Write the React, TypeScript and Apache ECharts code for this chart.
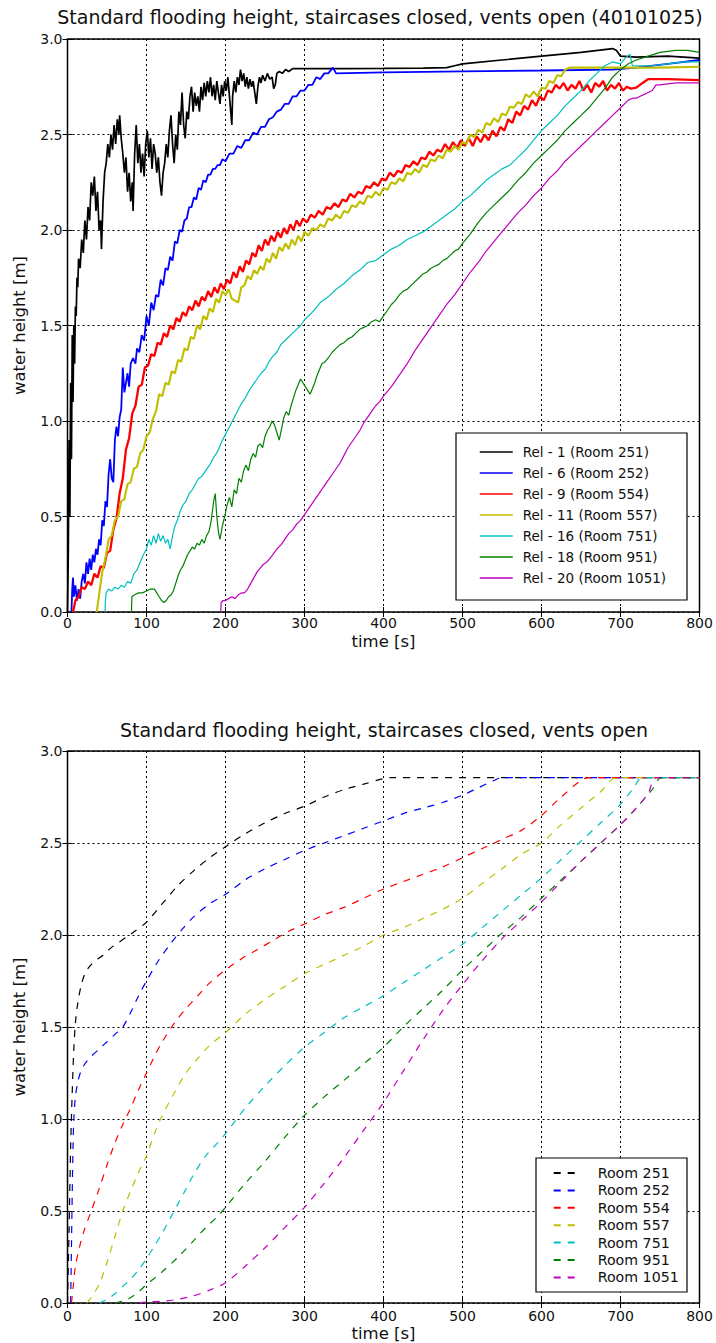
import React, { useEffect, useRef } from "react";
import * as echarts from "echarts";

// ---------- Texts and ticks ----------
const topTitle = "Standard flooding height, staircases closed, vents open (40101025)";
const bottomTitle = "Standard flooding height, staircases closed, vents open";
const topNames = [
  "Rel - 1 (Room 251)", "Rel - 6 (Room 252)", "Rel - 9 (Room 554)", "Rel - 11 (Room 557)",
  "Rel - 16 (Room 751)", "Rel - 18 (Room 951)", "Rel - 20 (Room 1051)",
];
const bottomNames = ["Room 251", "Room 252", "Room 554", "Room 557", "Room 751", "Room 951", "Room 1051"];
const colors = ["#000000", "#0000ff", "#ff0000", "#bfbf00", "#00bfbf", "#008000", "#bf00bf"];
const xTicks = [0, 100, 200, 300, 400, 500, 600, 700, 800];
const yTicks = [0, 0.5, 1.0, 1.5, 2.0, 2.5, 3.0];

// ---------- Top chart data (measured, [time s, height m]) ----------
const rel1 = [[0,0],[1,0.3],[2,0.9],[3,0.5],[4,1.2],[5,0.8],[6,1.45],[7,1.1],[8,1.5],[9,1.3],[10,1.6],[11,1.55],[12,1.75],[13,1.7],[14,1.85],[16,1.8],[18,1.95],[20,1.88],[22,2.05],[24,1.95],[26,2.12],[28,2.05],[30,2.25],[32,2.18],[34,2.28],[36,2.1],[38,2.2],[40,2.0],[42,2.05],[43,1.9],[45,2.15],[47,2.3],[49,2.35],[51,2.45],[53,2.38],[55,2.5],[57,2.42],[59,2.55],[61,2.45],[63,2.58],[65,2.5],[66,2.6],[68,2.48],[70,2.4],[72,2.3],[74,2.38],[76,2.2],[78,2.3],[80,2.15],[82,2.25],[83,2.1],[85,2.4],[87,2.55],[89,2.35],[91,2.45],[93,2.3],[95,2.4],[97,2.28],[99,2.45],[101,2.52],[103,2.38],[105,2.48],[107,2.32],[109,2.45],[111,2.4],[113,2.3],[115,2.38],[117,2.25],[119,2.18],[121,2.3],[123,2.35],[125,2.45],[127,2.38],[129,2.52],[131,2.6],[133,2.45],[135,2.35],[137,2.5],[139,2.42],[141,2.62],[143,2.55],[145,2.72],[147,2.55],[149,2.48],[151,2.62],[153,2.58],[155,2.7],[157,2.75],[159,2.62],[161,2.72],[163,2.65],[165,2.7],[167,2.62],[169,2.75],[171,2.68],[173,2.77],[175,2.7],[177,2.78],[179,2.72],[181,2.8],[183,2.7],[185,2.76],[187,2.68],[189,2.78],[191,2.72],[193,2.66],[195,2.76],[197,2.7],[199,2.78],[201,2.73],[203,2.8],[205,2.7],[207,2.6],[208,2.55],[209,2.7],[211,2.78],[213,2.72],[215,2.8],[217,2.76],[219,2.84],[221,2.78],[223,2.82],[225,2.75],[227,2.8],[229,2.74],[231,2.79],[233,2.75],[235,2.78],[237,2.72],[239,2.66],[241,2.75],[243,2.8],[245,2.77],[247,2.81],[250,2.78],[253,2.82],[256,2.79],[259,2.8],[261,2.74],[263,2.76],[265,2.82],[268,2.83],[272,2.82],[276,2.84],[280,2.83],[285,2.845],[300,2.845],[350,2.845],[400,2.846],[450,2.848],[480,2.85],[490,2.86],[500,2.87],[550,2.89],[600,2.91],[650,2.93],[690,2.95],[695,2.94],[700,2.91],[720,2.905],[760,2.91],[800,2.9]];

const rel6 = [[5,0],[6,0.12],[7,0.18],[8,0.08],[10,0.14],[12,0.06],[14,0.12],[16,0.07],[18,0.16],[20,0.2],[22,0.15],[24,0.26],[26,0.2],[28,0.28],[30,0.22],[32,0.3],[34,0.26],[36,0.33],[38,0.3],[40,0.38],[42,0.35],[44,0.48],[46,0.45],[48,0.58],[50,0.55],[52,0.72],[54,0.8],[56,0.7],[58,0.68],[60,0.9],[62,0.97],[64,0.92],[66,1.02],[68,1.06],[70,1.28],[72,1.15],[74,1.2],[76,1.25],[78,1.18],[80,1.3],[83,1.33],[86,1.3],[88,1.38],[91,1.36],[94,1.45],[97,1.42],[100,1.55],[103,1.5],[106,1.62],[109,1.58],[112,1.66],[115,1.65],[118,1.74],[121,1.71],[124,1.8],[127,1.79],[130,1.86],[133,1.84],[136,1.94],[139,1.93],[142,2.0],[145,1.99],[148,2.05],[151,2.06],[154,2.12],[157,2.12],[160,2.17],[163,2.16],[166,2.22],[169,2.21],[172,2.26],[175,2.25],[178,2.29],[181,2.29],[184,2.32],[187,2.32],[190,2.34],[193,2.34],[196,2.37],[200,2.36],[205,2.4],[210,2.4],[215,2.44],[220,2.43],[225,2.47],[230,2.47],[235,2.51],[240,2.5],[245,2.54],[250,2.54],[255,2.58],[260,2.59],[265,2.62],[270,2.63],[275,2.66],[280,2.66],[285,2.7],[290,2.7],[295,2.73],[300,2.73],[305,2.76],[310,2.76],[315,2.8],[320,2.79],[325,2.82],[330,2.82],[336,2.85],[340,2.82],[400,2.825],[500,2.83],[600,2.835],[690,2.84],[720,2.85],[760,2.87],[800,2.89]];

const rel9 = [[7,0],[10,0.06],[14,0.08],[18,0.13],[22,0.12],[26,0.16],[30,0.14],[34,0.2],[38,0.18],[42,0.24],[46,0.23],[50,0.31],[54,0.32],[58,0.43],[62,0.49],[66,0.62],[70,0.7],[74,0.85],[78,0.91],[82,1.04],[86,1.08],[90,1.18],[94,1.19],[98,1.28],[102,1.29],[106,1.35],[110,1.34],[114,1.41],[118,1.4],[122,1.46],[126,1.44],[130,1.5],[134,1.48],[138,1.54],[142,1.52],[146,1.57],[150,1.55],[154,1.6],[158,1.58],[162,1.63],[166,1.6],[170,1.65],[174,1.63],[178,1.68],[182,1.65],[186,1.7],[190,1.67],[194,1.72],[198,1.69],[202,1.74],[206,1.72],[210,1.78],[214,1.75],[218,1.81],[222,1.78],[226,1.84],[230,1.82],[234,1.88],[238,1.86],[242,1.92],[246,1.89],[250,1.95],[254,1.92],[258,1.97],[262,1.94],[266,1.99],[270,1.96],[274,2.01],[278,1.98],[282,2.03],[286,2.0],[290,2.05],[294,2.02],[298,2.06],[303,2.04],[308,2.08],[313,2.065],[318,2.1],[323,2.08],[328,2.12],[333,2.11],[338,2.14],[343,2.12],[348,2.16],[353,2.15],[358,2.19],[363,2.17],[368,2.2],[373,2.19],[378,2.23],[383,2.22],[388,2.25],[393,2.23],[398,2.27],[403,2.26],[408,2.3],[413,2.28],[418,2.31],[423,2.3],[428,2.34],[433,2.33],[438,2.36],[443,2.34],[448,2.38],[453,2.37],[458,2.41],[463,2.39],[468,2.42],[473,2.41],[478,2.45],[483,2.42],[488,2.46],[493,2.43],[498,2.47],[503,2.44],[508,2.48],[513,2.44],[518,2.49],[523,2.46],[528,2.5],[533,2.47],[538,2.52],[543,2.49],[548,2.54],[553,2.52],[558,2.58],[563,2.56],[568,2.62],[573,2.6],[578,2.65],[583,2.63],[588,2.68],[593,2.65],[598,2.7],[603,2.68],[608,2.73],[613,2.72],[618,2.76],[623,2.74],[628,2.77],[633,2.73],[638,2.76],[643,2.74],[648,2.78],[653,2.73],[658,2.76],[663,2.72],[668,2.77],[673,2.75],[678,2.78],[683,2.73],[688,2.76],[693,2.74],[698,2.77],[703,2.73],[708,2.75],[713,2.74],[720,2.745],[728,2.77],[735,2.79],[760,2.79],[800,2.785]];

const rel11 = [[37,0],[40,0.09],[44,0.21],[48,0.28],[52,0.38],[56,0.4],[60,0.48],[64,0.5],[68,0.58],[72,0.59],[76,0.67],[80,0.68],[84,0.75],[88,0.76],[92,0.83],[96,0.85],[100,0.92],[104,0.94],[108,1.01],[112,1.05],[116,1.14],[120,1.13],[124,1.2],[128,1.19],[132,1.26],[136,1.25],[140,1.32],[144,1.31],[148,1.38],[152,1.37],[156,1.44],[160,1.43],[164,1.5],[168,1.48],[172,1.55],[176,1.53],[180,1.59],[184,1.57],[188,1.64],[192,1.62],[196,1.68],[200,1.66],[204,1.69],[208,1.64],[212,1.63],[216,1.62],[220,1.7],[224,1.71],[228,1.76],[232,1.74],[236,1.79],[240,1.77],[244,1.81],[248,1.79],[252,1.85],[256,1.83],[260,1.88],[264,1.85],[268,1.91],[272,1.89],[276,1.93],[280,1.9],[284,1.95],[288,1.92],[292,1.97],[296,1.94],[300,1.99],[305,1.97],[310,2.01],[315,2.0],[320,2.03],[325,2.015],[330,2.06],[335,2.05],[340,2.08],[345,2.06],[350,2.1],[355,2.09],[360,2.13],[365,2.12],[370,2.15],[375,2.135],[380,2.18],[385,2.17],[390,2.2],[395,2.18],[400,2.22],[405,2.21],[410,2.25],[415,2.24],[420,2.27],[425,2.255],[430,2.3],[435,2.29],[440,2.32],[445,2.3],[450,2.34],[455,2.33],[460,2.37],[465,2.36],[470,2.39],[475,2.375],[480,2.42],[485,2.41],[490,2.44],[495,2.42],[500,2.46],[505,2.45],[510,2.5],[515,2.485],[520,2.525],[525,2.51],[530,2.56],[535,2.55],[540,2.585],[545,2.565],[550,2.61],[555,2.6],[560,2.645],[565,2.64],[570,2.67],[575,2.66],[580,2.71],[585,2.695],[590,2.725],[595,2.7],[600,2.745],[605,2.74],[610,2.78],[615,2.77],[620,2.81],[625,2.805],[630,2.84],[636,2.85],[650,2.85],[700,2.85],[750,2.85],[800,2.855]];

const rel16 = [[47.5,0],[48,0.06],[49,0.1],[52,0.12],[56,0.11],[60,0.13],[64,0.12],[68,0.14],[72,0.13],[76,0.16],[80,0.15],[84,0.2],[88,0.22],[92,0.26],[96,0.3],[100,0.33],[103,0.38],[106,0.35],[109,0.4],[112,0.36],[115,0.41],[118,0.37],[121,0.4],[124,0.36],[127,0.38],[130,0.33],[133,0.4],[136,0.45],[139,0.48],[142,0.52],[146,0.56],[150,0.58],[154,0.62],[158,0.64],[162,0.67],[166,0.7],[170,0.71],[175,0.74],[180,0.77],[185,0.81],[190,0.84],[195,0.89],[200,0.93],[205,0.97],[210,1.01],[215,1.05],[220,1.09],[225,1.12],[230,1.16],[235,1.19],[240,1.22],[245,1.25],[250,1.27],[255,1.31],[260,1.34],[265,1.36],[270,1.4],[275,1.42],[280,1.44],[285,1.46],[290,1.48],[295,1.5],[300,1.53],[310,1.57],[320,1.62],[330,1.65],[340,1.69],[350,1.72],[360,1.76],[370,1.79],[380,1.83],[390,1.84],[400,1.87],[410,1.9],[420,1.92],[430,1.95],[440,1.97],[450,1.99],[460,2.02],[470,2.05],[480,2.08],[490,2.11],[500,2.15],[510,2.18],[520,2.22],[530,2.26],[540,2.29],[550,2.32],[560,2.34],[570,2.38],[580,2.42],[590,2.47],[600,2.52],[610,2.56],[620,2.6],[630,2.65],[640,2.69],[650,2.73],[660,2.78],[670,2.82],[680,2.86],[690,2.88],[700,2.87],[706,2.9],[712,2.92],[715,2.86],[720,2.86],[740,2.86],[760,2.87],[780,2.88],[800,2.88]];

const rel18 = [[81,0],[81.5,0.08],[85,0.09],[90,0.1],[95,0.1],[100,0.11],[105,0.12],[110,0.12],[113,0.1],[116,0.08],[119,0.06],[122,0.05],[125,0.06],[128,0.08],[131,0.09],[134,0.11],[137,0.15],[140,0.19],[143,0.22],[146,0.24],[149,0.27],[152,0.3],[155,0.32],[158,0.34],[161,0.33],[164,0.36],[167,0.35],[170,0.38],[173,0.36],[176,0.4],[179,0.42],[182,0.48],[185,0.58],[187,0.62],[189,0.5],[191,0.42],[193,0.38],[196,0.45],[199,0.5],[202,0.56],[205,0.6],[208,0.55],[211,0.64],[214,0.62],[217,0.7],[220,0.68],[223,0.74],[226,0.77],[229,0.74],[232,0.8],[235,0.83],[238,0.81],[241,0.87],[244,0.88],[247,0.86],[250,0.92],[253,0.95],[256,0.97],[259,1.0],[262,0.98],[265,0.94],[268,0.9],[271,0.96],[274,1.02],[277,1.05],[280,1.03],[283,1.08],[286,1.12],[289,1.16],[292,1.19],[295,1.22],[298,1.2],[301,1.18],[304,1.16],[307,1.14],[310,1.17],[313,1.2],[316,1.24],[319,1.27],[322,1.3],[326,1.31],[330,1.33],[335,1.36],[340,1.38],[345,1.4],[350,1.41],[355,1.43],[360,1.44],[365,1.46],[370,1.48],[375,1.49],[380,1.5],[385,1.52],[390,1.53],[395,1.52],[400,1.55],[405,1.58],[410,1.61],[415,1.63],[420,1.66],[425,1.68],[430,1.69],[435,1.71],[440,1.73],[445,1.75],[450,1.77],[455,1.78],[460,1.8],[465,1.81],[470,1.82],[475,1.84],[480,1.85],[485,1.87],[490,1.89],[495,1.9],[500,1.93],[510,1.98],[520,2.04],[530,2.09],[540,2.13],[550,2.17],[560,2.21],[570,2.26],[580,2.3],[590,2.35],[600,2.39],[610,2.43],[620,2.47],[630,2.52],[640,2.56],[650,2.6],[660,2.64],[670,2.69],[680,2.74],[690,2.8],[700,2.84],[710,2.87],[720,2.89],[735,2.91],[750,2.93],[770,2.94],[785,2.94],[800,2.93]];

const rel20 = [[194,0],[194.5,0.05],[197,0.06],[200,0.06],[204,0.07],[208,0.08],[212,0.07],[216,0.09],[220,0.1],[224,0.1],[228,0.12],[232,0.15],[236,0.18],[240,0.21],[244,0.23],[248,0.25],[252,0.26],[256,0.28],[260,0.3],[265,0.33],[270,0.35],[275,0.38],[280,0.41],[285,0.43],[290,0.46],[295,0.48],[300,0.51],[305,0.54],[310,0.57],[315,0.6],[320,0.63],[325,0.66],[330,0.69],[335,0.72],[340,0.75],[345,0.78],[350,0.82],[355,0.86],[360,0.89],[365,0.92],[370,0.95],[375,0.99],[380,1.02],[385,1.05],[390,1.08],[395,1.1],[400,1.13],[410,1.18],[420,1.24],[430,1.3],[440,1.37],[450,1.43],[460,1.49],[470,1.55],[480,1.61],[490,1.66],[500,1.72],[510,1.78],[520,1.83],[530,1.89],[540,1.94],[550,1.99],[560,2.04],[570,2.09],[580,2.13],[590,2.18],[600,2.22],[610,2.27],[620,2.31],[630,2.36],[640,2.4],[650,2.44],[660,2.48],[670,2.52],[680,2.56],[690,2.6],[700,2.64],[710,2.68],[715,2.69],[720,2.69],[725,2.7],[730,2.71],[735,2.72],[740,2.73],[745,2.76],[750,2.76],[770,2.77],[800,2.77]];

// ---------- Bottom chart data (model, [time s, height m]) ----------
const room251 = [[0,0],[2,0.4],[4,0.85],[6,1.15],[8,1.38],[10,1.52],[13,1.63],[17,1.72],[22,1.79],[28,1.83],[35,1.86],[45,1.89],[55,1.93],[65,1.96],[75,1.99],[85,2.02],[100,2.07],[120,2.17],[140,2.27],[160,2.35],[180,2.42],[200,2.48],[225,2.55],[250,2.61],[275,2.66],[300,2.7],[325,2.75],[350,2.79],[375,2.82],[400,2.85],[410,2.855],[800,2.855]];
const room252 = [[4,0],[5,0.3],[6,0.6],[7,0.85],[8,1.0],[10,1.12],[13,1.2],[17,1.26],[22,1.3],[30,1.34],[40,1.38],[50,1.42],[60,1.46],[70,1.5],[80,1.58],[90,1.67],[100,1.75],[115,1.86],[130,1.95],[145,2.03],[160,2.1],[180,2.17],[200,2.22],[225,2.3],[250,2.36],[275,2.41],[300,2.46],[325,2.5],[350,2.54],[375,2.58],[400,2.62],[425,2.66],[450,2.69],[475,2.72],[500,2.76],[520,2.8],[540,2.84],[550,2.855],[800,2.855]];
const room554 = [[5,0],[7,0.08],[10,0.2],[15,0.3],[20,0.38],[30,0.5],[40,0.62],[50,0.75],[60,0.87],[70,0.97],[80,1.06],[90,1.16],[100,1.25],[110,1.34],[120,1.42],[135,1.52],[150,1.6],[165,1.67],[180,1.74],[200,1.81],[220,1.87],[240,1.92],[260,1.97],[280,2.02],[300,2.06],[325,2.11],[350,2.15],[375,2.2],[400,2.25],[425,2.29],[450,2.33],[475,2.37],[500,2.42],[525,2.47],[550,2.52],[575,2.57],[600,2.65],[625,2.75],[650,2.84],[660,2.855],[800,2.855]];
const room557 = [[25,0],[30,0.03],[40,0.1],[50,0.22],[60,0.36],[70,0.5],[80,0.61],[90,0.71],[100,0.8],[110,0.92],[120,1.02],[135,1.14],[150,1.25],[165,1.33],[180,1.4],[200,1.47],[225,1.57],[250,1.65],[275,1.72],[300,1.79],[325,1.84],[350,1.89],[375,1.94],[400,2.0],[425,2.04],[450,2.09],[475,2.14],[500,2.2],[525,2.28],[550,2.36],[575,2.44],[600,2.5],[625,2.6],[650,2.69],[675,2.78],[695,2.855],[800,2.855]];
const room751 = [[40,0],[50,0.02],[60,0.05],[70,0.09],[80,0.13],[90,0.18],[100,0.24],[110,0.31],[120,0.38],[130,0.46],[140,0.54],[150,0.62],[160,0.7],[175,0.8],[190,0.87],[200,0.92],[225,1.06],[250,1.18],[275,1.29],[300,1.39],[325,1.47],[350,1.55],[375,1.61],[400,1.67],[425,1.74],[450,1.81],[475,1.88],[500,1.95],[525,2.04],[550,2.13],[575,2.22],[600,2.31],[625,2.41],[650,2.51],[675,2.61],[700,2.71],[715,2.79],[728,2.855],[800,2.855]];
const room951 = [[60,0],[70,0.01],[80,0.03],[90,0.06],[100,0.1],[120,0.17],[140,0.25],[160,0.34],[175,0.41],[190,0.47],[200,0.52],[225,0.65],[250,0.77],[275,0.9],[300,1.02],[325,1.12],[350,1.21],[375,1.3],[400,1.39],[425,1.5],[450,1.6],[475,1.7],[500,1.81],[525,1.91],[550,2.01],[575,2.1],[600,2.2],[625,2.3],[650,2.4],[675,2.5],[700,2.6],[720,2.69],[740,2.79],[752,2.855],[800,2.855]];
const room1051 = [[90,0],[100,0.005],[120,0.01],[140,0.02],[160,0.04],[180,0.07],[200,0.11],[225,0.2],[250,0.3],[275,0.41],[300,0.52],[325,0.65],[350,0.79],[375,0.94],[400,1.09],[425,1.26],[450,1.43],[475,1.59],[500,1.73],[525,1.86],[550,1.98],[575,2.08],[600,2.18],[625,2.29],[650,2.4],[675,2.5],[700,2.6],[720,2.69],[735,2.77],[745,2.855],[800,2.855]];

const topData = [rel1, rel6, rel9, rel11, rel16, rel18, rel20];
const bottomData = [room251, room252, room554, room557, room751, room951, room1051];

const FONT = "DejaVu Sans";
const W = 716;
const H = 1343;
const PLOT_LEFT = 67.5;
const PLOT_W = 632;
const TOP_GRID = { top: 39, height: 573 };
const BOT_GRID = { top: 751, height: 553 };

function makeAxes(gridIndex: number, labelMargin: number, nameGap: number) {
  const tick = { show: true, inside: true, length: 5, lineStyle: { color: "#000", width: 1 } };
  const x = [
    {
      type: "value", gridIndex, min: 0, max: 800, interval: 100, position: "bottom",
      name: "time [s]", nameLocation: "middle", nameGap,
      nameTextStyle: { fontFamily: FONT, fontSize: 16.5, color: "#111" },
      axisLine: { show: false }, axisTick: tick,
      axisLabel: { fontFamily: FONT, fontSize: 14, color: "#111", margin: labelMargin,
        formatter: (v: number) => (xTicks.includes(v) ? String(v) : "") },
      splitLine: { show: true, lineStyle: { color: "#000", width: 1, type: [2, 3] } },
    },
    {
      type: "value", gridIndex, min: 0, max: 800, interval: 100, position: "top",
      axisLine: { show: false }, axisTick: tick, axisLabel: { show: false }, splitLine: { show: false },
    },
  ];
  const y = [
    {
      type: "value", gridIndex, min: 0, max: 3, interval: 0.5, position: "left",
      name: "water height [m]", nameLocation: "middle", nameGap: 40, nameRotate: 90,
      nameTextStyle: { fontFamily: FONT, fontSize: 16.5, color: "#111" },
      axisLine: { show: false }, axisTick: tick,
      axisLabel: { fontFamily: FONT, fontSize: 14, color: "#111", margin: 5,
        formatter: (v: number) => (yTicks.includes(v) ? v.toFixed(1) : "") },
      splitLine: { show: true, lineStyle: { color: "#000", width: 1, type: [2, 3] } },
    },
    {
      type: "value", gridIndex, min: 0, max: 3, interval: 0.5, position: "right",
      axisLine: { show: false }, axisTick: tick, axisLabel: { show: false }, splitLine: { show: false },
    },
  ];
  return { x, y };
}

export default function App() {
  const ref = useRef<HTMLDivElement>(null);
  useEffect(() => {
    if (!ref.current) return;
    const chart = echarts.init(ref.current, undefined, { renderer: "svg", width: W, height: H });
    const a1 = makeAxes(0, 4, 21);
    const a2 = makeAxes(1, 6, 22);
    const topWidths = [1.7, 1.8, 2.3, 2.1, 1.2, 1.2, 1.2];
    const series: any[] = [];
    topData.forEach((d, i) => {
      series.push({
        type: "line", name: topNames[i], data: d, xAxisIndex: 0, yAxisIndex: 0,
        showSymbol: false, symbol: "none", z: 2 + i * 0.01,
        lineStyle: { color: colors[i], width: topWidths[i] }, itemStyle: { color: colors[i] },
      });
    });
    bottomData.forEach((d, i) => {
      series.push({
        type: "line", name: bottomNames[i], data: d, xAxisIndex: 2, yAxisIndex: 2,
        showSymbol: false, symbol: "none", smooth: 0.3,
        lineStyle: { color: colors[i], width: 1.2, type: [7, 7] }, itemStyle: { color: colors[i] },
      });
    });
    const option: any = {
      animation: false,
      backgroundColor: "#fff",
      textStyle: { fontFamily: FONT },
      grid: [
        { left: PLOT_LEFT, top: TOP_GRID.top, width: PLOT_W, height: TOP_GRID.height, show: true,
          borderColor: "#000", borderWidth: 1.5, backgroundColor: "transparent" },
        { left: PLOT_LEFT, top: BOT_GRID.top, width: PLOT_W, height: BOT_GRID.height, show: true,
          borderColor: "#000", borderWidth: 1.5, backgroundColor: "transparent" },
      ],
      xAxis: [...a1.x, ...a2.x],
      yAxis: [...a1.y, ...a2.y],
      legend: [
        {
          data: topNames, orient: "vertical", left: 479, top: 445, itemWidth: 33, itemHeight: 14,
          itemGap: 7, padding: 0, z: 10, selectedMode: false,
          itemStyle: { opacity: 0, borderWidth: 0 },
          lineStyle: { width: 1.5 },
          textStyle: { fontFamily: FONT, fontSize: 13.5, color: "#111", padding: [0, 0, 0, 5] },
        },
        {
          data: bottomNames, orient: "vertical", left: 552.7, top: 1166, itemWidth: 26, itemHeight: 12,
          itemGap: 3.4, padding: 0, z: 10, selectedMode: false,
          itemStyle: { opacity: 0, borderWidth: 0 },
          textStyle: { fontFamily: FONT, fontSize: 14.2, color: "#111", padding: [0, 0, 0, 13] },
        },
      ],
      graphic: [
        { type: "text", x: 380, y: 17, z: 10,
          style: { text: topTitle, fontFamily: FONT, fontSize: 19, fill: "#111", textAlign: "center", textVerticalAlign: "middle" } },
        { type: "text", x: 384, y: 730, z: 10,
          style: { text: bottomTitle, fontFamily: FONT, fontSize: 19, fill: "#111", textAlign: "center", textVerticalAlign: "middle" } },
        { type: "rect", z: 5, shape: { x: 456, y: 433, width: 231, height: 167 },
          style: { fill: "#fff", stroke: "#000", lineWidth: 1.2 } },
        { type: "rect", z: 5, shape: { x: 536, y: 1158, width: 151, height: 134 },
          style: { fill: "#fff", stroke: "#000", lineWidth: 1.2 } },
      ],
      series,
    };
    chart.setOption(option);
    return () => chart.dispose();
  }, []);
  return <div ref={ref} style={{ position: "absolute", left: 0, top: 0, width: W, height: H }} />;
}
